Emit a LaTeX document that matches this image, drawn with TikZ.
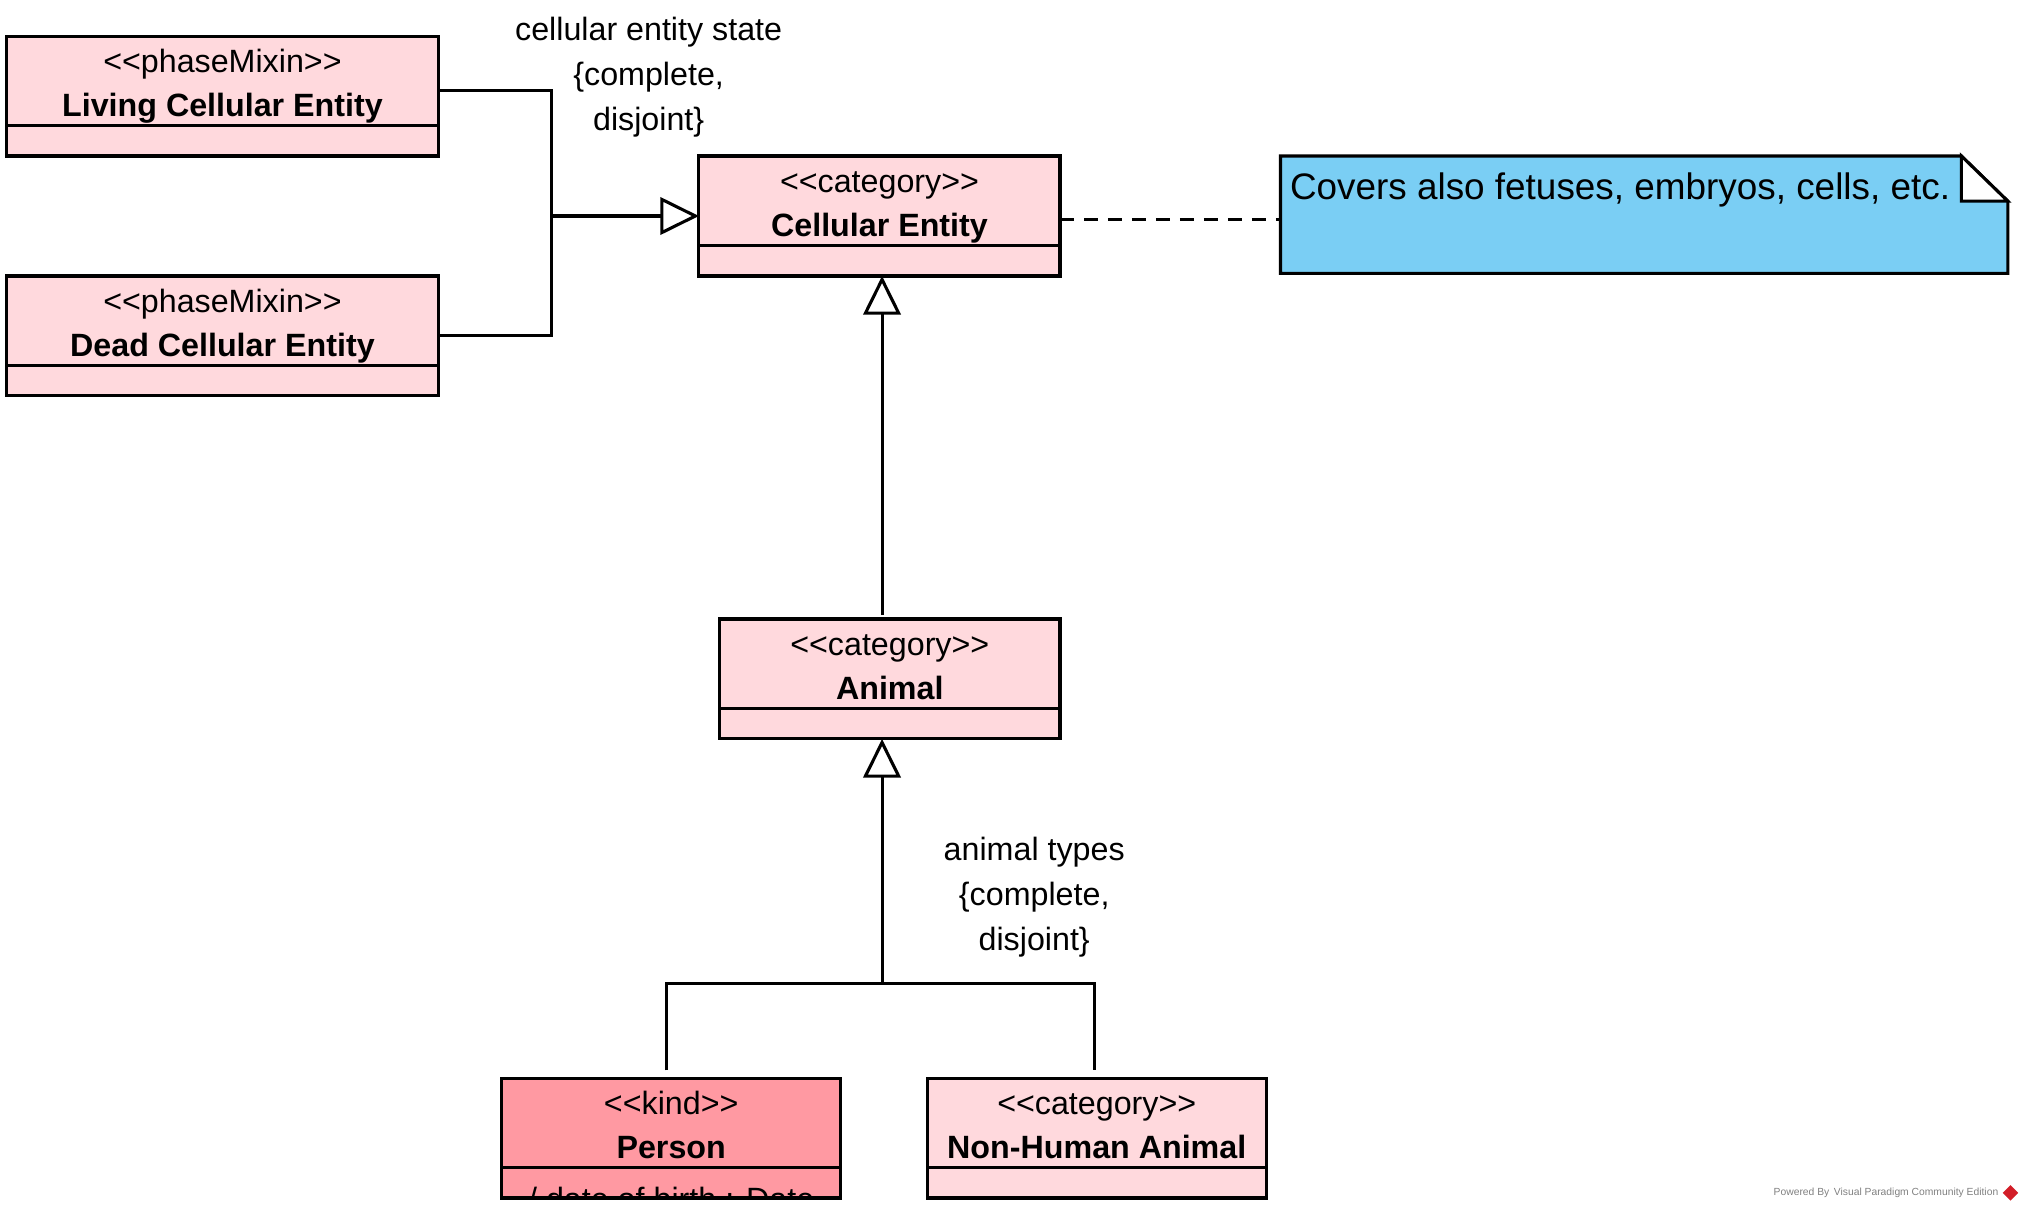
\documentclass[tikz,border=0pt]{standalone}
\usepackage{fontspec}
\setmainfont{Liberation Sans}[Ligatures=TeXOff]
\usetikzlibrary{arrows.meta,calc}
\definecolor{clsfill}{RGB}{255,217,221}
\definecolor{kindfill}{RGB}{255,153,162}
\definecolor{notefill}{RGB}{122,206,244}
\definecolor{vpred}{RGB}{210,30,40}
\newcommand\umlclass[7][clsfill]{%
  \node[classbox, fill=#1, minimum width=#5] (#2) at (#3,#4) {};
  \draw[conn] ($(#2.north west)+(0,69.5)$) -- ($(#2.north east)+(0,69.5)$);
  \node[stereo] (#2-st) at ($(#2.north)+(0,28.5)$) {#6};
  \node[cname] (#2-nm) at ($(#2.north)+(0,62.5)$) {#7};
}
\begin{document}
\begin{tikzpicture}[x=0.5pt,y=-0.5pt,
  classbox/.style={draw=black, line width=1.2pt, anchor=north west, inner sep=0pt, outer sep=0pt, minimum height=46.5pt},
  stereo/.style={font=\fontsize{12.5}{15}\selectfont, anchor=base, inner sep=0pt},
  cname/.style={font=\bfseries\fontsize{12.5}{15}\selectfont, anchor=base, inner sep=0pt},
  conn/.style={line width=1.2pt},
  gen/.style={conn, -{Triangle[open, length=15pt, width=14.5pt, fill=white]}},
  lbl/.style={font=\fontsize{12.5}{17.4}\selectfont, align=center, inner sep=0pt, anchor=north},
]
\useasboundingbox (0,0) rectangle (1568,937.6);

% classes
\umlclass{liv}{5}{28}{167.5pt}{<<phaseMixin>>}{Living Cellular Entity}
\umlclass{dead}{5}{214}{167.5pt}{<<phaseMixin>>}{Dead Cellular Entity}
\umlclass{ce}{542}{121}{140pt}{<<category>>}{Cellular Entity}
\umlclass{animal}{558}{480}{132pt}{<<category>>}{Animal}
\umlclass[kindfill]{person}{389}{836}{131.5pt}{<<kind>>}{Person}
\umlclass{nha}{719}{836}{131.5pt}{<<category>>}{Non-Human Animal}

% clipped attribute of Person
\begin{scope}
  \clip (person.south west) rectangle (person.north east);
  \node[stereo] (person-attr) at ([yshift=-5pt]person.south) {/ date of birth : Date};
\end{scope}

% note
\node[anchor=north west, minimum width=282pt, minimum height=45.5pt, inner sep=0pt, outer sep=0pt] (note) at (993,121) {};
\filldraw[conn, fill=notefill, line join=miter]
  (note.north west) -- ([xshift=-18pt]note.north east) -- ([yshift=-17.5pt]note.north east)
  -- (note.south east) -- (note.south west) -- cycle;
\filldraw[conn, fill=white, line join=miter]
  ([xshift=-18pt]note.north east) -- ([xshift=-18pt,yshift=-17.5pt]note.north east)
  -- ([yshift=-17.5pt]note.north east) -- cycle;
\node[anchor=base west, inner sep=0pt, font=\fontsize{14.3}{17}\selectfont] (note-txt) at (1000,155) {Covers also fetuses, embryos, cells, etc.};

% phase generalization set
\draw[conn] ([yshift=2.25pt]liv.east) -- ++(88,0) coordinate (jt) -- (jt |- dead.east) -- (dead.east);
\draw[gen] (jt |- ce.west) -- (ce.west);
\node[lbl] (lbl-phase) at (503,13) {cellular entity state\\{\{}complete,\\disjoint{\}}};

% Animal -> Cellular Entity
\coordinate (ax) at (684,0);
\draw[gen, shorten <=1.5pt] (ax |- animal.north) -- (ax |- ce.south);

% animal types generalization set
\coordinate (ab) at (684,763);
\draw[gen] (ab) -- (ab |- animal.south);
\coordinate (pt) at ([xshift=-1.75pt,yshift=3pt]person.north);
\coordinate (nt) at ([xshift=-0.75pt,yshift=3pt]nha.north);
\draw[conn] (pt) -- (pt |- ab) -- (nt |- ab) -- (nt);
\node[lbl] (lbl-animal) at (802,649) {animal types\\{\{}complete,\\disjoint{\}}};

% dashed anchor
\draw[conn, dash pattern=on 5.5pt off 3.8pt] ([yshift=-1.25pt]ce.east) -- ([yshift=-1.25pt]ce.east -| note.west);

% footer
\node[anchor=east, inner sep=0pt, font=\fontsize{4}{5}\selectfont, text=gray] (powered) at (1550,925) {Powered By\, Visual Paradigm Community Edition};
\fill[vpred] (1559,919) -- (1565,925) -- (1559,931) -- (1553,925) -- cycle;
\end{tikzpicture}
\end{document}
